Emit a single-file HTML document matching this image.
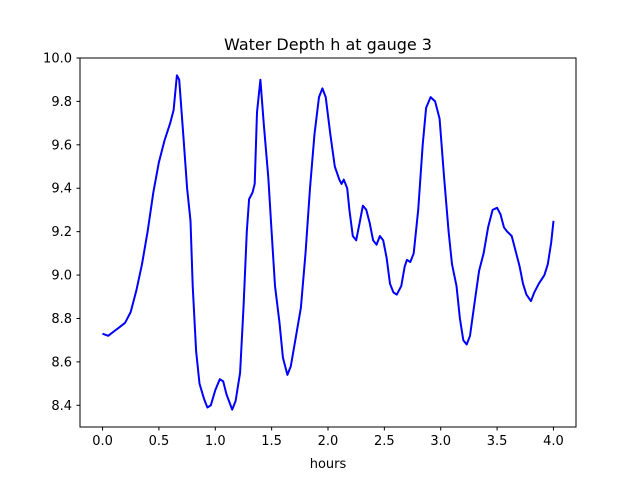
<!DOCTYPE html>
<html><head><meta charset="utf-8"><style>
body{margin:0;background:#fff;}
svg{display:block;font-family:"DejaVu Sans","Liberation Sans",sans-serif;}
</style></head><body>
<svg id="chart" width="640" height="480">
<rect width="640" height="480" fill="#fff"/>
<text x="328" y="50" text-anchor="middle" font-size="16">Water Depth h at gauge 3</text>
<text x="328" y="468" text-anchor="middle" font-size="13">hours</text>
<g id="ticks"></g>
<polyline id="line" fill="none" stroke="#0000ff" stroke-width="2" stroke-linejoin="round"/>
<rect x="80" y="58" width="496" height="369" fill="none" stroke="#000" stroke-width="1"/>
</svg>
<script>
const hours=[0,0.05,0.1,0.15,0.2,0.25,0.3,0.35,0.4,0.45,0.5,0.55,0.6,0.63,0.66,0.68,0.72,0.75,0.78,0.8,0.83,0.86,0.9,0.93,0.96,1.0,1.04,1.07,1.1,1.15,1.18,1.22,1.25,1.28,1.3,1.33,1.35,1.37,1.4,1.43,1.47,1.5,1.53,1.57,1.6,1.64,1.67,1.71,1.76,1.8,1.84,1.88,1.92,1.95,1.98,2.02,2.06,2.1,2.12,2.14,2.17,2.19,2.22,2.25,2.28,2.31,2.34,2.37,2.4,2.43,2.46,2.49,2.52,2.55,2.58,2.61,2.65,2.68,2.7,2.73,2.76,2.8,2.84,2.87,2.91,2.95,2.99,3.03,3.07,3.1,3.14,3.17,3.2,3.23,3.26,3.3,3.34,3.38,3.42,3.46,3.5,3.53,3.56,3.59,3.63,3.66,3.7,3.73,3.76,3.8,3.83,3.87,3.92,3.95,3.98,4.0];
const depth=[8.73,8.72,8.74,8.76,8.78,8.83,8.93,9.05,9.2,9.38,9.52,9.62,9.7,9.76,9.92,9.9,9.62,9.4,9.25,8.95,8.65,8.5,8.43,8.39,8.4,8.47,8.52,8.51,8.45,8.38,8.42,8.55,8.85,9.2,9.35,9.38,9.42,9.75,9.9,9.7,9.45,9.2,8.95,8.78,8.62,8.54,8.58,8.7,8.85,9.1,9.4,9.65,9.82,9.86,9.82,9.65,9.5,9.44,9.42,9.44,9.4,9.3,9.18,9.16,9.24,9.32,9.3,9.24,9.16,9.14,9.18,9.16,9.08,8.96,8.92,8.91,8.95,9.04,9.07,9.06,9.1,9.3,9.6,9.77,9.82,9.8,9.72,9.45,9.2,9.05,8.95,8.8,8.7,8.68,8.72,8.87,9.02,9.1,9.22,9.3,9.31,9.28,9.22,9.2,9.18,9.12,9.04,8.96,8.91,8.88,8.92,8.96,9.0,9.05,9.15,9.25];
const xTicks=[0,0.5,1,1.5,2,2.5,3,3.5,4];
const yTicks=[8.4,8.6,8.8,9.0,9.2,9.4,9.6,9.8,10.0];
const X=v=>80+(v+0.2)/4.4*496;
const Y=v=>427-(v-8.3)/1.7*369;
const NS="http://www.w3.org/2000/svg";
const g=document.getElementById('ticks');
function mk(t,a){const e=document.createElementNS(NS,t);for(const k in a)e.setAttribute(k,a[k]);g.appendChild(e);return e;}
xTicks.forEach(v=>{
 const l=mk('line',{x1:X(v),x2:X(v),y1:427,y2:430.5,stroke:'#000'});
 
 
 const t=mk('text',{x:X(v),y:445,'text-anchor':'middle','font-size':13});
 t.textContent=v.toFixed(1);
 
 
});
yTicks.forEach(v=>{
 const l=mk('line',{x1:76.5,x2:80,y1:Y(v),y2:Y(v),stroke:'#000'});
 
 
 const t=mk('text',{x:72,y:Y(v)+4.5,'text-anchor':'end','font-size':13});
 t.textContent=v.toFixed(1);
 
 
});
document.getElementById('line').setAttribute('points',hours.map((h,i)=>X(h).toFixed(1)+','+Y(depth[i]).toFixed(1)).join(' '));
</script>
</body></html>
